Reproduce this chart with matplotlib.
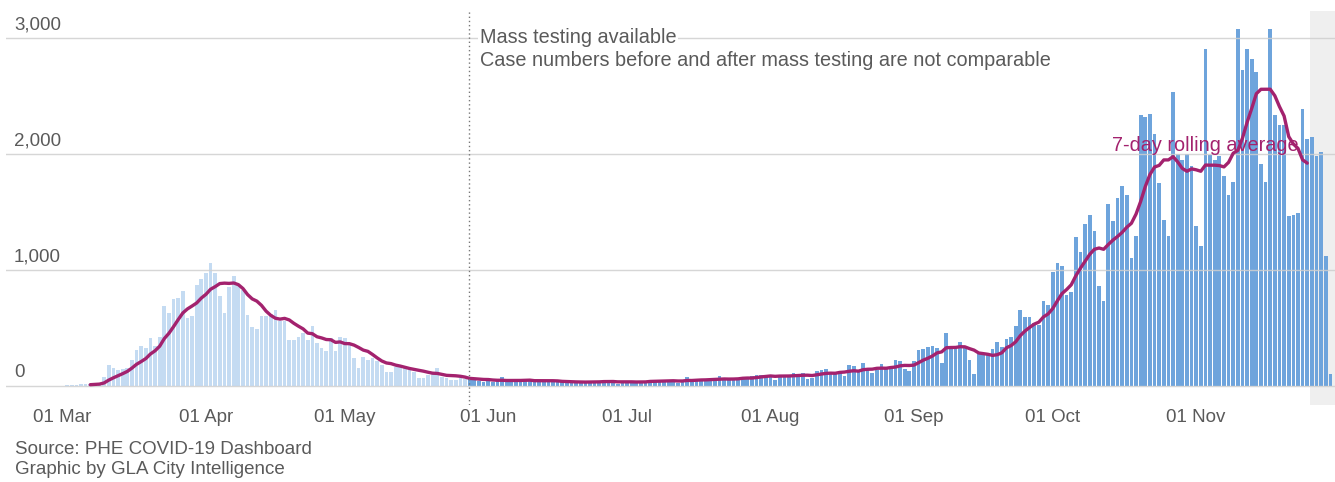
import numpy as np
import pandas as pd
import matplotlib
matplotlib.use("Agg")
import matplotlib.pyplot as plt
from matplotlib.transforms import blended_transform_factory

plt.rcParams['font.family'] = ['Liberation Sans', 'DejaVu Sans']

# Daily cases from 01 Mar 2020 to 30 Nov 2020
START = "2020-03-01"
CASES = [
    0, 5, 8, 10, 12, 15, 20, 15, 25, 80,
    180, 150, 140, 145, 150, 225, 310, 345, 330, 415,
    340, 425, 685, 630, 745, 755, 815, 585, 600, 870,
    925, 970, 1060, 975, 770, 625, 855, 950, 870, 825,
    610, 510, 490, 600, 600, 620, 650, 555, 555, 396,
    396, 425, 459, 396, 517, 373, 324, 301, 410, 301,
    425, 416, 367, 238, 158, 252, 224, 238, 210, 181,
    118, 118, 161, 166, 166, 138, 123, 66, 66, 95,
    109, 152, 80, 66, 52, 52, 66, 60, 75, 57,
    43, 34, 46, 37, 45, 75, 43, 43, 40, 43,
    43, 57, 43, 40, 43, 40, 43, 32, 30, 32,
    30, 32, 35, 37, 35, 37, 35, 46, 37, 35,
    17, 35, 37, 35, 37, 40, 37, 46, 43, 46,
    46, 43, 46, 23, 46, 75, 45, 63, 57, 52,
    40, 57, 86, 60, 57, 60, 63, 75, 70, 86,
    90, 95, 86, 95, 52, 86, 86, 95, 109, 95,
    115, 57, 66, 132, 138, 149, 109, 109, 109, 86,
    178, 172, 123, 195, 138, 115, 138, 187, 166, 166,
    224, 210, 143, 132, 210, 310, 319, 339, 347, 330,
    195, 459, 324, 324, 382, 339, 224, 103, 287, 287,
    281, 316, 382, 339, 405, 419, 517, 654, 591, 597,
    540, 525, 735, 697, 979, 1056, 1033, 784, 812, 1280,
    1157, 1395, 1472, 1337, 861, 735, 1567, 1421, 1616, 1719,
    1647, 1101, 1288, 2331, 2316, 2342, 2173, 1747, 1431, 1288,
    2529, 2000, 1949, 2000, 1891, 1374, 1201, 2903, 1992, 1949,
    1977, 1811, 1647, 1753, 3075, 2725, 2903, 2816, 2702, 1914,
    1756, 3075, 2330, 2250, 2250, 1460, 1469, 1489, 2385, 2130,
    2144, 1983, 2012, 1115, 100,
]

MASS_TESTING = pd.Timestamp("2020-05-27 20:00")
LINE_END = pd.Timestamp("2020-11-25")
INCOMPLETE_FROM = pd.Timestamp("2020-11-25 12:00")
X_MIN = pd.Timestamp("2020-02-17 19:00")
X_MAX = pd.Timestamp("2020-12-01")

Y_TICKS = [0, 1000, 2000, 3000]
X_TICKS = ["2020-03-01", "2020-04-01", "2020-05-01", "2020-06-01", "2020-07-01",
           "2020-08-01", "2020-09-01", "2020-10-01", "2020-11-01"]
X_LABELS = ["01 Mar", "01 Apr", "01 May", "01 Jun", "01 Jul",
            "01 Aug", "01 Sep", "01 Oct", "01 Nov"]

LIGHT = '#c4dbf2'
DARK = '#6ea4dc'
LINE = '#a3226e'
GREY = '#5a5a5a'

df = pd.DataFrame({"date": pd.date_range(START, periods=len(CASES), freq="D"),
                   "cases": CASES})
df["avg"] = df["cases"].rolling(7).mean()

fig = plt.figure(figsize=(13.35, 4.82), dpi=100)
ax = fig.add_axes([0.0045, 1 - 405 / 482, 0.9955, (405 - 11) / 482])

# incomplete data shading, behind the bars
ax.axvspan(INCOMPLETE_FROM, X_MAX, color='#efefef', linewidth=0, zorder=0)

colors = np.where(df["date"] < MASS_TESTING, LIGHT, DARK)
ax.bar(df["date"], df["cases"], width=0.8, color=colors, linewidth=0, zorder=2)

line = df[df["date"] <= LINE_END]
ax.plot(line["date"], line["avg"], color=LINE, linewidth=2.4, zorder=5,
        solid_capstyle='round')

# gridlines sit over the bars, lightly
for v in Y_TICKS:
    ax.axhline(v, color='#cfcfcf', linewidth=1, alpha=0.85, zorder=3)

ax.axvline(MASS_TESTING, color='#777777', linestyle=(0, (1, 2)), linewidth=1, zorder=6)

ax.set_xlim(X_MIN, X_MAX)
ax.set_ylim(-165, 3230)

trans = blended_transform_factory(ax.transAxes, ax.transData)
for v in Y_TICKS:
    ax.text(8 / 1329, v + 40, f"{v:,}", transform=trans, ha='left', va='bottom',
            fontsize=13.5, color=GREY, zorder=7)

ax.set_xticks(pd.to_datetime(X_TICKS))
ax.set_xticklabels(X_LABELS, fontsize=13.5, color=GREY)
ax.tick_params(axis='x', length=0, pad=3)
ax.set_yticks([])
for s in ax.spines.values():
    s.set_visible(False)

ax.text(MASS_TESTING + pd.Timedelta(days=2.3), 3003, "Mass testing available",
        fontsize=14.3, color=GREY, ha='left', va='center', zorder=7,
        bbox=dict(facecolor='white', edgecolor='none', pad=1))
ax.text(MASS_TESTING + pd.Timedelta(days=2.3), 2805,
        "Case numbers before and after mass testing are not comparable",
        fontsize=14.3, color=GREY, ha='left', va='center', zorder=7)

ax.text(pd.Timestamp("2020-10-13 18:00"), 2075, "7-day rolling average",
        fontsize=14.3, color=LINE, ha='left', va='center', zorder=7)

fig.text(15 / 1335, 1 - 450 / 482, "Source: PHE COVID-19 Dashboard",
         fontsize=13.5, color=GREY, ha='left', va='center')
fig.text(15 / 1335, 1 - 470 / 482, "Graphic by GLA City Intelligence",
         fontsize=13.5, color=GREY, ha='left', va='center')

fig.savefig("out.png", dpi=100, facecolor='white')
